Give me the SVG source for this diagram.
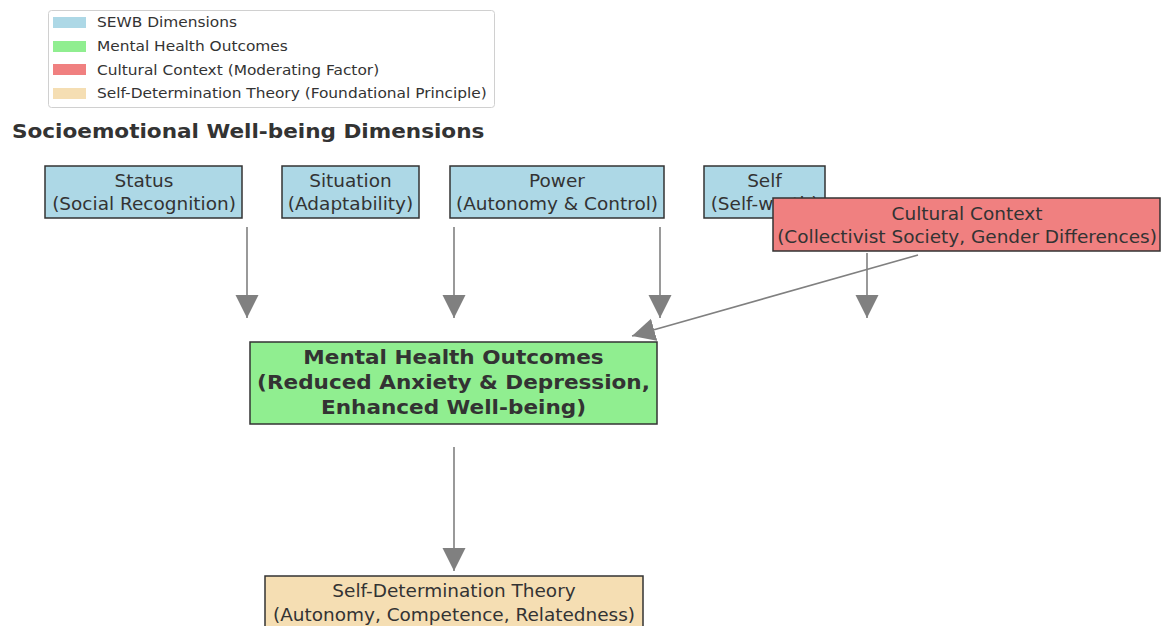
<svg xmlns="http://www.w3.org/2000/svg" width="1163" height="626" viewBox="0 0 1163 626">
<style>
text{font-family:"DejaVu Sans","Liberation Sans",sans-serif;fill:#333;}
.lg{font-size:14px;}
.t{font-size:16.8px;text-anchor:middle;}
.b{font-size:19.6px;font-weight:bold;text-anchor:middle;}
.box{stroke:#333;stroke-width:1.5;}
.edge{stroke:#808080;stroke-width:1.6;fill:none;marker-end:url(#ah);}
</style>
<defs>
<marker id="ah" markerUnits="userSpaceOnUse" markerWidth="24" markerHeight="24" refX="23" refY="11.5" orient="auto">
<path d="M0,0 L23,11.5 L0,23 z" fill="#808080"/>
</marker>
</defs>
<rect width="1163" height="626" fill="#fff"/>
<g id="legend">
<rect x="48.5" y="10.5" width="446" height="97" rx="3" fill="#fff" stroke="#d0d0d0"/>
<rect x="53" y="17" width="33" height="11" fill="#ADD8E6"/>
<rect x="53" y="41" width="33" height="11" fill="#90EE90"/>
<rect x="53" y="64" width="33" height="11" fill="#F08080"/>
<rect x="53" y="88" width="33" height="11" fill="#F5DEB3"/>
<text class="lg" transform="matrix(1.1,0,0,1,97,0)" y="27">SEWB Dimensions</text>
<text class="lg" transform="matrix(1.1,0,0,1,97,0)" y="51">Mental Health Outcomes</text>
<text class="lg" transform="matrix(1.1,0,0,1,97,0)" y="75">Cultural Context (Moderating Factor)</text>
<text class="lg" transform="matrix(1.1,0,0,1,97,0)" y="98">Self-Determination Theory (Foundational Principle)</text>
</g>
<text transform="matrix(1.1,0,0,1,12,0)" y="138" style="font-size:19.6px;font-weight:bold">Socioemotional Well-being Dimensions</text>
<g id="connectors">
<line class="edge" x1="247" y1="227" x2="247" y2="318"/>
<line class="edge" x1="454" y1="227" x2="454" y2="318"/>
<line class="edge" x1="660" y1="227" x2="660" y2="318"/>
<line class="edge" x1="867" y1="253" x2="867" y2="318"/>
<line class="edge" x1="918" y1="255" x2="632" y2="336"/>
<line class="edge" x1="454" y1="447" x2="454" y2="571"/>
</g>
<g id="status">
<rect class="box" x="45" y="166" width="197" height="52" fill="#ADD8E6"/>
<text class="t" transform="matrix(1.1,0,0,1,144,0)" y="187">Status</text>
<text class="t" transform="matrix(1.1,0,0,1,144,0)" y="210">(Social Recognition)</text>
</g>
<g id="situation">
<rect class="box" x="282" y="166" width="137" height="52" fill="#ADD8E6"/>
<text class="t" transform="matrix(1.1,0,0,1,350.5,0)" y="187">Situation</text>
<text class="t" transform="matrix(1.1,0,0,1,350.5,0)" y="210">(Adaptability)</text>
</g>
<g id="power">
<rect class="box" x="450" y="166" width="214" height="52" fill="#ADD8E6"/>
<text class="t" transform="matrix(1.1,0,0,1,557,0)" y="187">Power</text>
<text class="t" transform="matrix(1.1,0,0,1,557,0)" y="210">(Autonomy &amp; Control)</text>
</g>
<g id="self">
<rect class="box" x="704" y="166" width="121" height="52" fill="#ADD8E6"/>
<text class="t" transform="matrix(1.1,0,0,1,764.5,0)" y="187">Self</text>
<text class="t" transform="matrix(1.1,0,0,1,764.5,0)" y="210">(Self-worth)</text>
</g>
<g id="cultural">
<rect class="box" x="773" y="198" width="387" height="53" fill="#F08080"/>
<text class="t" transform="matrix(1.1,0,0,1,967,0)" y="220">Cultural Context</text>
<text class="t" transform="matrix(1.1,0,0,1,967,0)" y="243">(Collectivist Society, Gender Differences)</text>
</g>
<g id="mental">
<rect class="box" x="250" y="342" width="407" height="82" fill="#90EE90"/>
<text class="b" transform="matrix(1.1,0,0,1,453.5,0)" y="364">Mental Health Outcomes</text>
<text class="b" transform="matrix(1.1,0,0,1,453.5,0)" y="389">(Reduced Anxiety &amp; Depression,</text>
<text class="b" transform="matrix(1.1,0,0,1,453.5,0)" y="414">Enhanced Well-being)</text>
</g>
<g id="sdt">
<rect class="box" x="265" y="576" width="378" height="60" fill="#F5DEB3"/>
<text class="t" transform="matrix(1.1,0,0,1,454,0)" y="597">Self-Determination Theory</text>
<text class="t" transform="matrix(1.1,0,0,1,454,0)" y="621">(Autonomy, Competence, Relatedness)</text>
</g>
</svg>
